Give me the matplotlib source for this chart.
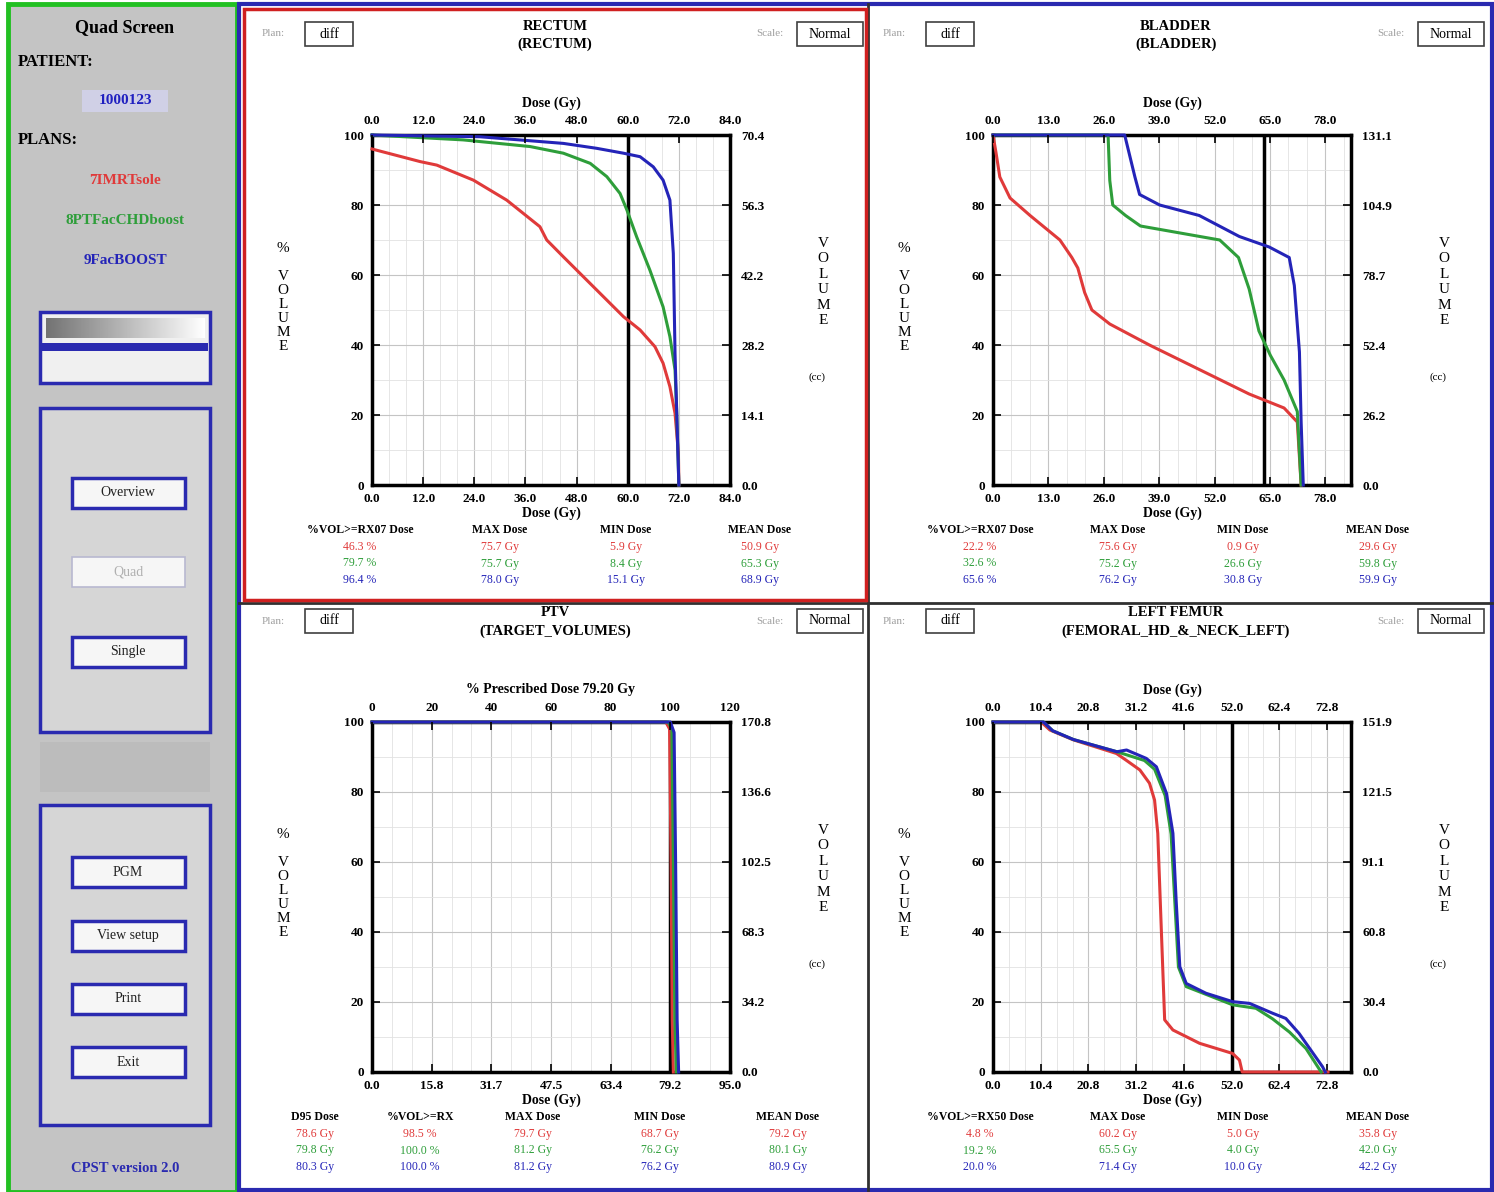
# Quad screen DVH comparison (CPST-style GUI)

import numpy as np
import matplotlib.pyplot as plt
from matplotlib.patches import Rectangle
from matplotlib.ticker import AutoMinorLocator

plt.rcParams['font.family'] = ['Liberation Serif', 'DejaVu Serif']

# Plans
plan_names = ['7IMRTsole', '8PTFacCHDboost', '9FacBOOST']
plan_colors = ['#e03a3a', '#2e9e3a', '#2424b8']

# RECTUM (dose Gy, % volume)
rectum_d = [
    [0, 11.3, 15.2, 23.8, 31.6, 39.4, 41.0, 44.9, 49.6, 54.3, 59.0, 62.9, 66.4, 68.3, 69.9, 71.1, 71.9, 72.0],
    [0, 21.4, 37.1, 44.9, 51.2, 55.1, 58.2, 59.8, 62.1, 65.2, 68.3, 69.9, 71.1, 71.5, 72.0],
    [0, 25.3, 44.9, 52.7, 59.0, 62.9, 66.0, 68.3, 69.9, 70.7, 71.1, 72.0],
]
rectum_v = [
    [96, 92.4, 91.4, 87.1, 81.4, 73.8, 70.0, 65.2, 59.5, 53.8, 48.1, 44.3, 39.5, 34.8, 28.1, 20.5, 9.0, 0],
    [100, 98.6, 96.7, 94.8, 91.9, 88.1, 83.3, 78.6, 70.9, 61.4, 50.9, 42.4, 32.9, 20.5, 0],
    [100, 99.5, 97.6, 96.2, 94.8, 93.8, 90.9, 87.1, 81.4, 66.2, 37.6, 0],
]

# BLADDER
bladder_d = [
    [0, 0.7, 1.6, 4.0, 8.7, 15.7, 18.5, 19.9, 21.5, 23.2, 27.4, 36.7, 48.4, 60.1, 68.3, 71.4, 72.3],
    [0, 27.0, 27.4, 28.1, 31.1, 34.6, 43.9, 53.2, 57.6, 60.1, 62.4, 65.1, 68.3, 71.4, 72.3],
    [0, 30.9, 33.3, 34.4, 39.1, 48.4, 57.8, 64.8, 69.5, 70.7, 71.9, 72.3, 72.8],
]
bladder_v = [
    [100, 95, 88, 82, 77, 70, 65, 62, 55, 50, 46, 40, 33, 26, 22, 18, 0],
    [100, 100, 87, 80, 77, 74, 72, 70, 65, 56, 44, 37, 30, 21, 0],
    [100, 100, 88, 83, 80, 77, 71, 68, 65, 57, 38, 18, 0],
]

# PTV
ptv_d = [
    [0, 78.0, 79.0, 79.4, 79.7, 80.0],
    [0, 78.6, 79.6, 80.0, 80.4, 80.8],
    [0, 79.2, 80.2, 80.6, 81.0, 81.4],
]
ptv_v = [
    [100, 100, 98, 60, 15, 0],
    [100, 100, 98, 60, 15, 0],
    [100, 100, 97, 60, 15, 0],
]

# LEFT FEMUR
femur_d = [
    [0, 10.5, 12.4, 17.5, 26.9, 29.1, 32.0, 34.1, 35.2, 35.9, 36.7, 37.4, 39.2, 45.0, 52.2, 53.7, 54.3, 73.0],
    [0, 11.0, 13.0, 17.5, 27.0, 33.0, 35.2, 37.5, 38.8, 39.6, 40.4, 42.1, 52.2, 57.3, 60.9, 64.6, 68.2, 71.1, 71.5],
    [0, 11.0, 13.0, 17.5, 27.0, 29.1, 33.4, 35.6, 37.8, 39.2, 39.9, 40.7, 42.1, 46.4, 52.2, 55.9, 60.9, 63.8, 66.7, 71.8, 72.4],
]
femur_v = [
    [100, 100, 97.7, 94.9, 91.0, 89.0, 86.3, 82.5, 77.7, 68.2, 39.7, 14.9, 12.0, 8.2, 5.3, 3.4, 0, 0],
    [100, 100, 97.5, 95, 91.5, 89, 86.5, 79, 68, 49, 30, 24.4, 19.2, 18.2, 15.2, 11.4, 6.7, 0.8, 0],
    [100, 100, 97.5, 95, 91.5, 92, 89.6, 87.2, 79.6, 68.2, 49.1, 30.1, 25.3, 22.5, 20.1, 19.6, 16.8, 15.3, 11.0, 1.5, 0],
]

# stats tables
rectum_hdr = ['%VOL>=RX07 Dose', 'MAX Dose', 'MIN Dose', 'MEAN Dose']
rectum_tab = [['46.3 %', '75.7 Gy', '5.9 Gy', '50.9 Gy'],
              ['79.7 %', '75.7 Gy', '8.4 Gy', '65.3 Gy'],
              ['96.4 %', '78.0 Gy', '15.1 Gy', '68.9 Gy']]
bladder_hdr = ['%VOL>=RX07 Dose', 'MAX Dose', 'MIN Dose', 'MEAN Dose']
bladder_tab = [['22.2 %', '75.6 Gy', '0.9 Gy', '29.6 Gy'],
               ['32.6 %', '75.2 Gy', '26.6 Gy', '59.8 Gy'],
               ['65.6 %', '76.2 Gy', '30.8 Gy', '59.9 Gy']]
ptv_hdr = ['D95 Dose', '%VOL>=RX', 'MAX Dose', 'MIN Dose', 'MEAN Dose']
ptv_tab = [['78.6 Gy', '98.5 %', '79.7 Gy', '68.7 Gy', '79.2 Gy'],
           ['79.8 Gy', '100.0 %', '81.2 Gy', '76.2 Gy', '80.1 Gy'],
           ['80.3 Gy', '100.0 %', '81.2 Gy', '76.2 Gy', '80.9 Gy']]
femur_hdr = ['%VOL>=RX50 Dose', 'MAX Dose', 'MIN Dose', 'MEAN Dose']
femur_tab = [['4.8 %', '60.2 Gy', '5.0 Gy', '35.8 Gy'],
             ['19.2 %', '65.5 Gy', '4.0 Gy', '42.0 Gy'],
             ['20.0 %', '71.4 Gy', '10.0 Gy', '42.2 Gy']]

W, H = 1494, 1192
fig = plt.figure(figsize=(W / 100, H / 100), dpi=100)
fig.patch.set_facecolor('white')

bg = fig.add_axes([0, 0, 1, 1])
bg.set_xlim(0, W)
bg.set_ylim(H, 0)
bg.axis('off')


def box(x0, y0, x1, y1, fc='none', ec='k', lw=1.0, z=1):
    bg.add_patch(Rectangle((x0, y0), x1 - x0, y1 - y0, facecolor=fc,
                           edgecolor=ec, linewidth=lw, zorder=z))


def txt(x, y, s, size=10, color='k', ha='center', weight='bold', **kw):
    bg.text(x, y, s, fontsize=size, color=color, ha=ha, va='center',
            fontweight=weight, zorder=5, **kw)


# ---- left control panel ----
box(8, 4, 237, 1192, fc='#c4c4c4', ec='#22c022', lw=3.5)
txt(125, 28, 'Quad Screen', size=13)
txt(18, 62, 'PATIENT:', size=12, ha='left')
box(82, 90, 168, 112, fc='#d0d0e6', ec='none')
txt(125, 100, '1000123', size=11, color='#2020c0')
txt(18, 140, 'PLANS:', size=12, ha='left')
for i, (nm, c) in enumerate(zip(plan_names, plan_colors)):
    txt(125, 180 + 40 * i, nm, size=11, color=c)

box(40, 312, 210, 383, fc='#f0f0f0', ec='#2a2ab0', lw=2.5)
grad = np.linspace(0.45, 1.0, 200).reshape(1, -1)
bg.imshow(grad, extent=(46, 205, 338, 318), aspect='auto', cmap='gray',
          vmin=0, vmax=1, zorder=2)
box(42, 343, 208, 351, fc='#2a2ab0', ec='none', z=3)
bg.set_xlim(0, W)
bg.set_ylim(H, 0)

box(40, 408, 210, 732, fc='#d6d6d6', ec='#2a2ab0', lw=2.5)
box(40, 742, 210, 792, fc='#bcbcbc', ec='none')
box(40, 805, 210, 1125, fc='#d6d6d6', ec='#2a2ab0', lw=2.5)

buttons = [('Overview', 478, True), ('Quad', 557, False), ('Single', 637, True),
           ('PGM', 857, True), ('View setup', 921, True), ('Print', 984, True),
           ('Exit', 1047, True)]
for lab, y, on in buttons:
    box(72, y, 185, y + 30, fc='#f6f6f6', ec='#2a2ab0' if on else '#b8b8d0', lw=2.5 if on else 1.2)
    txt(128, y + 15, lab, size=10, color='#202020' if on else '#b0b0b0', weight='normal')
txt(125, 1168, 'CPST version 2.0', size=10.5, color='#2a2ab0')

# ---- main area frames ----
box(239, 4, 1492, 1190, fc='white', ec='#2a2ab0', lw=3)
bg.plot([868, 868], [4, 1190], color='#303030', lw=2, zorder=2)
bg.plot([239, 1492], [603, 603], color='#303030', lw=2, zorder=2)
box(244, 9, 866, 600, ec='#d02020', lw=2.5, z=3)


def dvh_panel(ox, oy, title, sub, ds, vs, xmax, xticks, xlabs, vline, vol,
              hdr, tab, cols, top_ticks=None, top_labs=None, top_label='Dose (Gy)', top_max=None):
    # header widgets
    txt(ox + 30, oy + 30, 'Plan:', size=8, color='#a0a0a0', weight='normal')
    box(ox + 62, oy + 18, ox + 110, oy + 42, fc='white', ec='#404040', lw=1.2)
    txt(ox + 86, oy + 30, 'diff', size=10, weight='normal')
    txt(ox + 527, oy + 30, 'Scale:', size=8, color='#a0a0a0', weight='normal')
    box(ox + 554, oy + 18, ox + 620, oy + 42, fc='white', ec='#404040', lw=1.2)
    txt(ox + 587, oy + 30, 'Normal', size=10, weight='normal')
    txt(ox + 312, oy + 22, title, size=10.5)
    txt(ox + 312, oy + 40, sub, size=10.5)

    x0, y0 = ox + 129, oy + 131
    ax = fig.add_axes([x0 / W, 1 - (y0 + 350) / H, 358 / W, 350 / H])
    ax.axvline(vline, color='k', lw=2.5, zorder=2.8)
    for d, v, c in zip(ds, vs, plan_colors):
        ax.plot(d, v, color=c, lw=2.2, zorder=3, clip_on=False)
    ax.set_xlim(0, xmax)
    ax.set_ylim(0, 100)
    ax.set_xticks(xticks)
    ax.set_xticklabels(xlabs)
    ax.set_yticks([0, 20, 40, 60, 80, 100])
    ax.xaxis.set_minor_locator(AutoMinorLocator(3))
    ax.yaxis.set_minor_locator(AutoMinorLocator(2))
    ax.grid(which='major', color='#c4c4c4', lw=0.8)
    ax.grid(which='minor', color='#e2e2e2', lw=0.6)
    ax.tick_params(which='major', direction='in', length=6, width=1.2, labelsize=9.5, pad=6)
    ax.tick_params(which='minor', length=0)
    for lab in ax.get_xticklabels() + ax.get_yticklabels():
        lab.set_fontweight('bold')
    for s in ax.spines.values():
        s.set_linewidth(2.5)
    ax.set_xlabel('Dose (Gy)', fontsize=10, labelpad=1, fontweight='bold')

    axt = ax.twiny()
    if top_max is None:
        axt.set_xlim(0, xmax)
        axt.set_xticks(xticks)
        axt.set_xticklabels(xlabs)
    else:
        axt.set_xlim(0, top_max)
        axt.set_xticks(top_ticks)
        axt.set_xticklabels(top_labs)
    axt.set_xlabel(top_label, fontsize=10, labelpad=6, fontweight='bold')
    axt.tick_params(direction='in', length=6, width=1.2, labelsize=9.5, pad=6)

    axr = ax.twinx()
    axr.set_ylim(0, vol)
    rt = np.linspace(0, vol, 6)
    axr.set_yticks(rt)
    axr.set_yticklabels(['%.1f' % t for t in rt])
    axr.tick_params(direction='in', length=6, width=1.2, labelsize=9.5, pad=8)
    for a in (axt, axr):
        for s in a.spines.values():
            s.set_visible(False)
        for lab in a.get_xticklabels() + a.get_yticklabels():
            lab.set_fontweight('bold')

    # stacked axis names
    txt(ox + 40, oy + 293, '%\n\nV\nO\nL\nU\nM\nE', size=11, weight='normal', linespacing=1.1)
    txt(ox + 580, oy + 278, 'V\nO\nL\nU\nM\nE', size=11, weight='normal', linespacing=1.25)
    txt(ox + 574, oy + 373, '(cc)', size=8, weight='normal')

    # stats table
    ty = oy + 526
    for cx, h in zip(cols, hdr):
        txt(ox + cx, ty, h, size=8.5)
    for r, (row, c) in enumerate(zip(tab, plan_colors)):
        for cx, val in zip(cols, row):
            txt(ox + cx, ty + 17 + 16.5 * r, val, size=8.5, color=c, weight='normal')


dvh_panel(243, 4, 'RECTUM', '(RECTUM)', rectum_d, rectum_v, 84,
          np.arange(0, 85, 12), ['%.1f' % t for t in np.arange(0, 85, 12)], 60, 70.4,
          rectum_hdr, rectum_tab, [117, 257, 383, 517])

dvh_panel(864, 4, 'BLADDER', '(BLADDER)', bladder_d, bladder_v, 84,
          np.arange(0, 79, 13), ['%.1f' % t for t in np.arange(0, 79, 13)], 63.6, 131.1,
          bladder_hdr, bladder_tab, [116, 254, 379, 514])

ptv_ticks = np.arange(0, 7) * 79.2 * 0.2
dvh_panel(243, 591, 'PTV', '(TARGET_VOLUMES)', ptv_d, ptv_v, 79.2 * 1.2,
          ptv_ticks, ['%.1f' % t for t in ptv_ticks], 79.2, 170.8,
          ptv_hdr, ptv_tab, [72, 177, 290, 417, 545],
          top_ticks=np.arange(0, 121, 20), top_labs=[str(t) for t in range(0, 121, 20)],
          top_label='% Prescribed Dose 79.20 Gy', top_max=120)

fem_ticks = np.arange(0, 73, 10.4)
dvh_panel(864, 591, 'LEFT FEMUR', '(FEMORAL_HD_&_NECK_LEFT)', femur_d, femur_v, 78,
          fem_ticks, ['%.1f' % t for t in fem_ticks], 52.0, 151.9,
          femur_hdr, femur_tab, [116, 254, 379, 514])

fig.savefig('out.png', dpi=100)
